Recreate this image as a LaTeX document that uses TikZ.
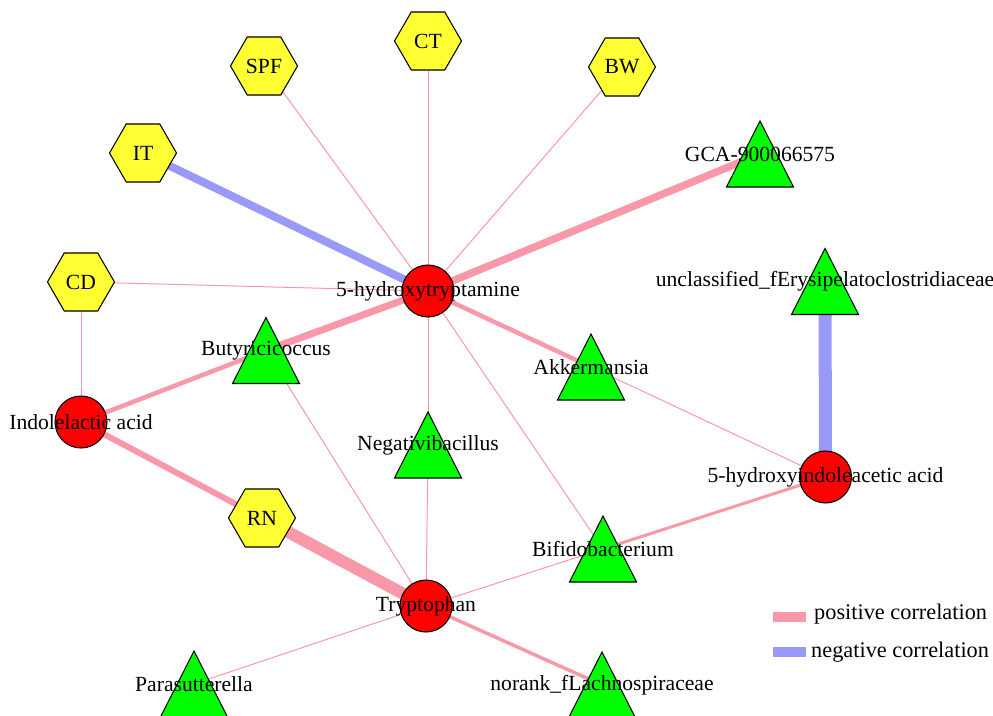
\documentclass[tikz,border=0pt]{standalone}
\usepackage{fontspec}
\setmainfont{Liberation Serif}
\usetikzlibrary{shapes.geometric,backgrounds}
\usepackage{xcolor}
\definecolor{poscor}{RGB}{248,152,168}
\definecolor{negcor}{RGB}{153,153,247}
\definecolor{hexyel}{RGB}{255,255,51}

\begin{document}
\begin{tikzpicture}[x=0.02cm,y=-0.02cm,
	font=\fontsize{12.3}{14}\selectfont,
	met/.style={circle,fill=red,draw=black,line width=0.6pt,minimum size=1.04cm,inner sep=0pt},
	grp/.style={regular polygon,regular polygon sides=6,fill=hexyel,draw=black,line width=0.6pt,minimum size=1.34cm,inner sep=0pt},
	tri/.style={fill=green,draw=black,line width=0.6pt},
	posedge/.style={draw=poscor,line width=#1*0.57pt},
	negedge/.style={draw=negcor,line width=#1*0.57pt},
	legtext/.style={anchor=west,font=\fontsize{12.7}{14}\selectfont}]
	\useasboundingbox (0,0) rectangle (993,716);
	% metabolites
	\node[met,label=center:5-hydroxytryptamine] (ht) at (428,291) {};
	\node[met,label=center:Indolelactic acid] (ilac) at (81,422) {};
	\node[met,label=center:Tryptophan] (trp) at (426,606) {};
	\node[met,label=center:5-hydroxyindoleacetic acid] (hiaa) at (825.5,477) {};
	% groups
	\foreach \n/\x/\y/\l in {ct/428/41/CT, spf/264/66/SPF, bw/622/67/BW,
			it/143/153/IT, cd/81/282/CD, rn/262/518/RN} {
		\node[grp] (\n) at (\x,\y) {\l};
	};
	% genera
	\foreach \n/\x/\y in {gca/760/154, uncl/825/281.5, butyr/266/350.5, akk/591/367,
			negat/428/445, bifido/603/549, para/194/684, norank/602/685} {
		\coordinate (\n) at (\x,\y);
	};
	\begin{scope}[on background layer]
		\foreach \a/\b/\w in {ht/spf/1, ht/ct/1, ht/bw/1, ht/cd/1, ht/gca/7.5,
				ht/butyr/7, ht/akk/4.5, ht/negat/1, ht/bifido/1, cd/ilac/1,
				ilac/butyr/4.5, ilac/rn/6, rn/trp/12, butyr/trp/1, negat/trp/1,
				trp/bifido/1, bifido/hiaa/3, akk/hiaa/1, trp/para/1, trp/norank/3.5} {
			\draw[posedge=\w] (\a.center) -- (\b.center);
		};
		\draw[negedge=8] (ht.center) -- (it.center);
		\draw[negedge=13] (uncl.center) -- (hiaa.center);
	\end{scope}
	\foreach \n/\l in {gca/GCA-900066575, uncl/unclassified\_fErysipelatoclostridiaceae,
			butyr/Butyricicoccus, akk/Akkermansia, negat/Negativibacillus,
			bifido/Bifidobacterium, para/Parasutterella, norank/norank\_fLachnospiraceae} {
		\filldraw[tri] ([shift={(0,-33)}]\n) -- ([shift={(33.5,33)}]\n)
			-- ([shift={(-33.5,33)}]\n) -- cycle;
		\node (\n-text) at (\n) {\l};
	};
	% legend
	\node[legtext] (posleg) at (808,614) {positive correlation};
	\node[legtext] (negleg) at (805,652) {negative correlation};
	\coordinate (posbar) at (773,617);
	\coordinate (negbar) at (773,652);
	\draw[posedge=10] (posbar) -- ++(33,0);
	\draw[negedge=10] (negbar) -- ++(33,0);
\end{tikzpicture}
\end{document}
